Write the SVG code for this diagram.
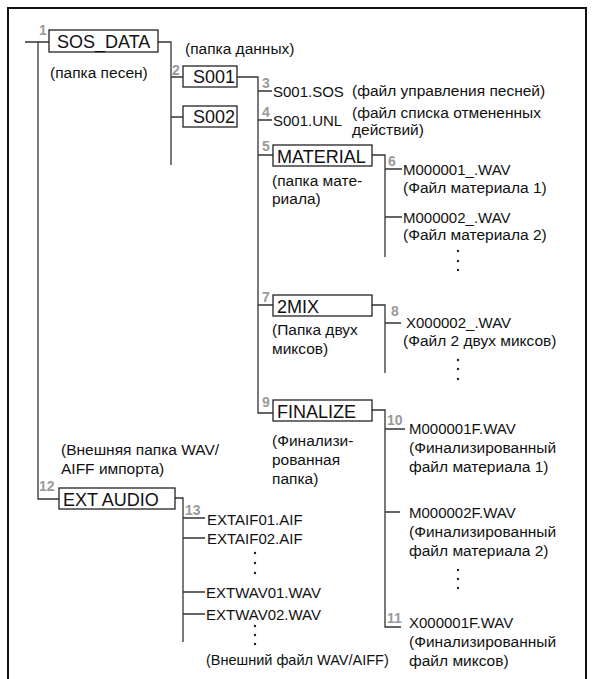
<svg xmlns="http://www.w3.org/2000/svg" width="594" height="679" viewBox="0 0 594 679">
<style>
.bx{fill:#fff;stroke:#222;stroke-width:1.3}
.bt{font-family:"Liberation Sans",Arial,sans-serif;font-size:18px;fill:#111}
.fn{font-family:"Liberation Sans",Arial,sans-serif;font-size:15px;fill:#111}
.an{font-family:"Liberation Sans",Arial,sans-serif;font-size:15.5px;fill:#111}
.an2{font-family:"Liberation Sans",Arial,sans-serif;font-size:14.5px;fill:#111}
.nm{font-family:"Liberation Sans",Arial,sans-serif;font-size:14px;font-weight:bold;fill:#9a9a9a}
.ln{fill:none;stroke:#333;stroke-width:1.3}
.dot{fill:#222}
</style>
<rect width="594" height="679" fill="#fff"/>
<path d="M8,679 V8 H586 V679" fill="none" stroke="#111" stroke-width="2"/>

<g id="connectors" class="ln">
<path d="M25,42 H49 M38,42 V499 H59"/>
<path d="M158,42 H171 V165 M171,77 H183 M171,117 H183"/>
<path d="M237,77 H258 V413 H273 M258,91 H272 M258,120 H272 M258,155 H273 M258,305 H273"/>
<path d="M372,155 H385 V257 M385,169 H402 M385,217 H402"/>
<path d="M372,305 H385 V373 M385,323 H401"/>
<path d="M372,410 H385 V627 H401 M385,429 H405 M385,512 H400"/>
<path d="M175,498 H183 V642 M183,518 H205 M183,538 H205 M183,592 H205 M183,614 H205"/>
</g>

<g id="n1">
<text class="nm" x="39" y="35">1</text>
<rect class="bx" x="49" y="30" width="109" height="22"/>
<text class="bt" x="57" y="47.5">SOS_DATA</text>
<text class="an" x="50" y="78">(папка песен)</text>
<text class="an" x="185" y="54">(папка данных)</text>
</g>
<g id="n2">
<text class="nm" x="172" y="75">2</text>
<rect class="bx" x="183" y="66" width="54" height="21"/>
<text class="bt" x="193" y="83">S001</text>
</g>
<g id="s002">
<rect class="bx" x="183" y="106" width="54" height="21"/>
<text class="bt" x="193" y="123">S002</text>
</g>
<g id="n3">
<text class="nm" x="262" y="88">3</text>
<text class="fn" x="273" y="97">S001.SOS</text>
<text class="an" x="352" y="96">(файл управления песней)</text>
</g>
<g id="n4">
<text class="nm" x="262" y="117">4</text>
<text class="fn" x="273" y="126">S001.UNL</text>
<text class="an" x="352" y="118">(файл списка отмененных</text>
<text class="an" x="352" y="135">действий)</text>
</g>
<g id="n5">
<text class="nm" x="262" y="151">5</text>
<rect class="bx" x="273" y="145" width="99" height="21"/>
<text class="bt" x="277" y="162.5">MATERIAL</text>
<text class="an" x="272" y="186">(папка мате-</text>
<text class="an" x="272" y="204">риала)</text>
</g>
<g id="n6">
<text class="nm" x="388" y="166">6</text>
<text class="fn" x="403" y="175">M000001_.WAV</text>
<text class="an" x="403" y="193">(Файл материала 1)</text>
<text class="fn" x="403" y="223">M000002_.WAV</text>
<text class="an" x="403" y="240">(Файл материала 2)</text>
<circle class="dot" cx="458" cy="251" r="1.2"/>
<circle class="dot" cx="458" cy="261" r="1.2"/>
<circle class="dot" cx="458" cy="270" r="1.2"/>
</g>
<g id="n7">
<text class="nm" x="262" y="302">7</text>
<rect class="bx" x="273" y="295" width="99" height="21"/>
<text class="bt" x="277" y="312.5">2MIX</text>
<text class="an" x="272" y="335">(Папка двух</text>
<text class="an" x="272" y="354">миксов)</text>
</g>
<g id="n8">
<text class="nm" x="391" y="316">8</text>
<text class="fn" x="406" y="328">X000002_.WAV</text>
<text class="an" x="403" y="346">(Файл 2 двух миксов)</text>
<circle class="dot" cx="458" cy="360" r="1.2"/>
<circle class="dot" cx="458" cy="369" r="1.2"/>
<circle class="dot" cx="458" cy="379" r="1.2"/>
</g>
<g id="n9">
<text class="nm" x="262" y="407">9</text>
<rect class="bx" x="273" y="400" width="99" height="21"/>
<text class="bt" x="277" y="417.5">FINALIZE</text>
<text class="an" x="272" y="446">(Финализи-</text>
<text class="an" x="272" y="465">рованная</text>
<text class="an" x="272" y="484">папка)</text>
</g>
<g id="n10">
<text class="nm" x="387" y="425">10</text>
<text class="fn" x="409" y="434">M000001F.WAV</text>
<text class="an" x="409" y="453">(Финализированный</text>
<text class="an" x="409" y="472">файл материала 1)</text>
<text class="fn" x="409" y="518">M000002F.WAV</text>
<text class="an" x="409" y="537">(Финализированный</text>
<text class="an" x="409" y="556">файл материала 2)</text>
<circle class="dot" cx="458" cy="570" r="1.2"/>
<circle class="dot" cx="458" cy="579" r="1.2"/>
<circle class="dot" cx="458" cy="588" r="1.2"/>
</g>
<g id="n11">
<text class="nm" x="387" y="623">11</text>
<text class="fn" x="409" y="628">X000001F.WAV</text>
<text class="an" x="409" y="647">(Финализированный</text>
<text class="an" x="409" y="666">файл миксов)</text>
</g>
<g id="n12">
<text class="an" x="61" y="455">(Внешняя папка WAV/</text>
<text class="an" x="61" y="474">AIFF импорта)</text>
<text class="nm" x="39" y="491">12</text>
<rect class="bx" x="59" y="488" width="116" height="21"/>
<text class="bt" x="63" y="505.5">EXT AUDIO</text>
</g>
<g id="n13">
<text class="nm" x="185" y="515">13</text>
<text class="fn" x="207" y="525">EXTAIF01.AIF</text>
<text class="fn" x="207" y="544">EXTAIF02.AIF</text>
<circle class="dot" cx="255" cy="553" r="1.2"/>
<circle class="dot" cx="255" cy="563" r="1.2"/>
<circle class="dot" cx="255" cy="573" r="1.2"/>
<text class="fn" x="206" y="598">EXTWAV01.WAV</text>
<text class="fn" x="206" y="620">EXTWAV02.WAV</text>
<circle class="dot" cx="255" cy="626" r="1.2"/>
<circle class="dot" cx="255" cy="635" r="1.2"/>
<circle class="dot" cx="255" cy="644" r="1.2"/>
<text class="an2" x="206" y="665">(Внешний файл WAV/AIFF)</text>
</g>
</svg>
